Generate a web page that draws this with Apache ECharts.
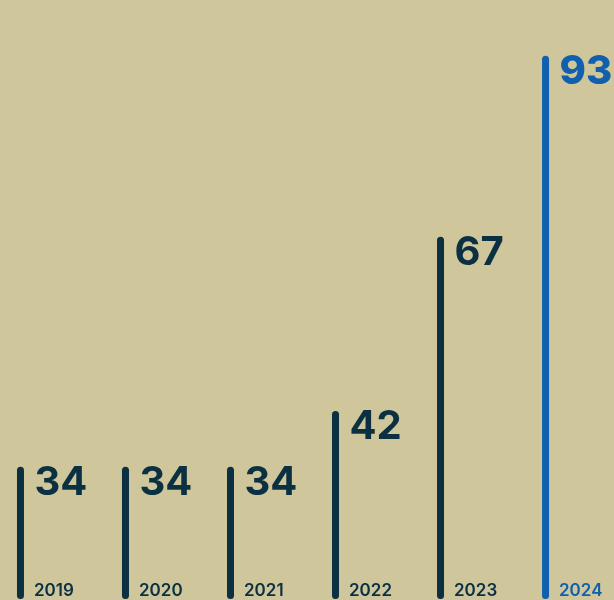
<!DOCTYPE html>
<html>
<head>
<meta charset="utf-8">
<script src="https://cdn.jsdelivr.net/npm/echarts@6/dist/echarts.min.js"></script>
<style>
  html, body { margin: 0; padding: 0; background: #cfc69b; }
  #chart { width: 614px; height: 600px; }
</style>
</head>
<body>
<div id="chart"></div>
<script>
// Yearly totals, 2019–2024
const years = ['2019', '2020', '2021', '2022', '2023', '2024'];
const values = [34, 34, 34, 42, 67, 93];
const highlightYear = '2024';

const DARK = '#0a3042';
const BLUE = '#1160ae';
const FONT = 'Inter, "Noto Sans", sans-serif';

const chart = echarts.init(document.getElementById('chart'), null, { renderer: 'canvas' });

// One thin rounded stick per year, value label at its top, year at its foot
function renderStick(params, api) {
  const idx = api.value(0);
  const val = api.value(1);
  const top = api.coord([idx, val]);
  const base = api.coord([idx, api.value(2)]);
  const cx = top[0];
  const w = 7;
  const isHi = years[idx] === highlightYear;
  const color = isHi ? BLUE : DARK;
  return {
    type: 'group',
    children: [
      {
        type: 'rect',
        shape: { x: cx - w / 2, y: top[1], width: w, height: base[1] - top[1], r: w / 2 },
        style: { fill: color }
      },
      {
        type: 'text',
        style: {
          x: cx + 14,
          y: top[1] + 16.5,
          text: String(val),
          fill: color,
          font: (isHi ? '800 ' : '700 ') + '40px ' + FONT,
          align: 'left',
          verticalAlign: 'middle'
        }
      },
      {
        type: 'text',
        style: {
          x: cx + 13.5,
          y: base[1] - 8,
          text: years[idx],
          fill: color,
          font: '600 17px ' + FONT,
          align: 'left',
          verticalAlign: 'middle'
        }
      }
    ]
  };
}

const axisMin = 15;

chart.setOption({
  backgroundColor: '#cfc69b',
  animation: false,
  grid: { left: 0, right: 0, top: 0, bottom: 1 },
  xAxis: {
    type: 'value',
    min: -0.195,
    max: 5.652,
    show: false
  },
  yAxis: {
    type: 'value',
    min: axisMin,
    max: 101,
    show: false
  },
  series: [{
    type: 'custom',
    renderItem: renderStick,
    clip: false,
    encode: { x: 0, y: 1 },
    data: values.map((v, i) => [i, v, axisMin])
  }]
});
</script>
</body>
</html>
